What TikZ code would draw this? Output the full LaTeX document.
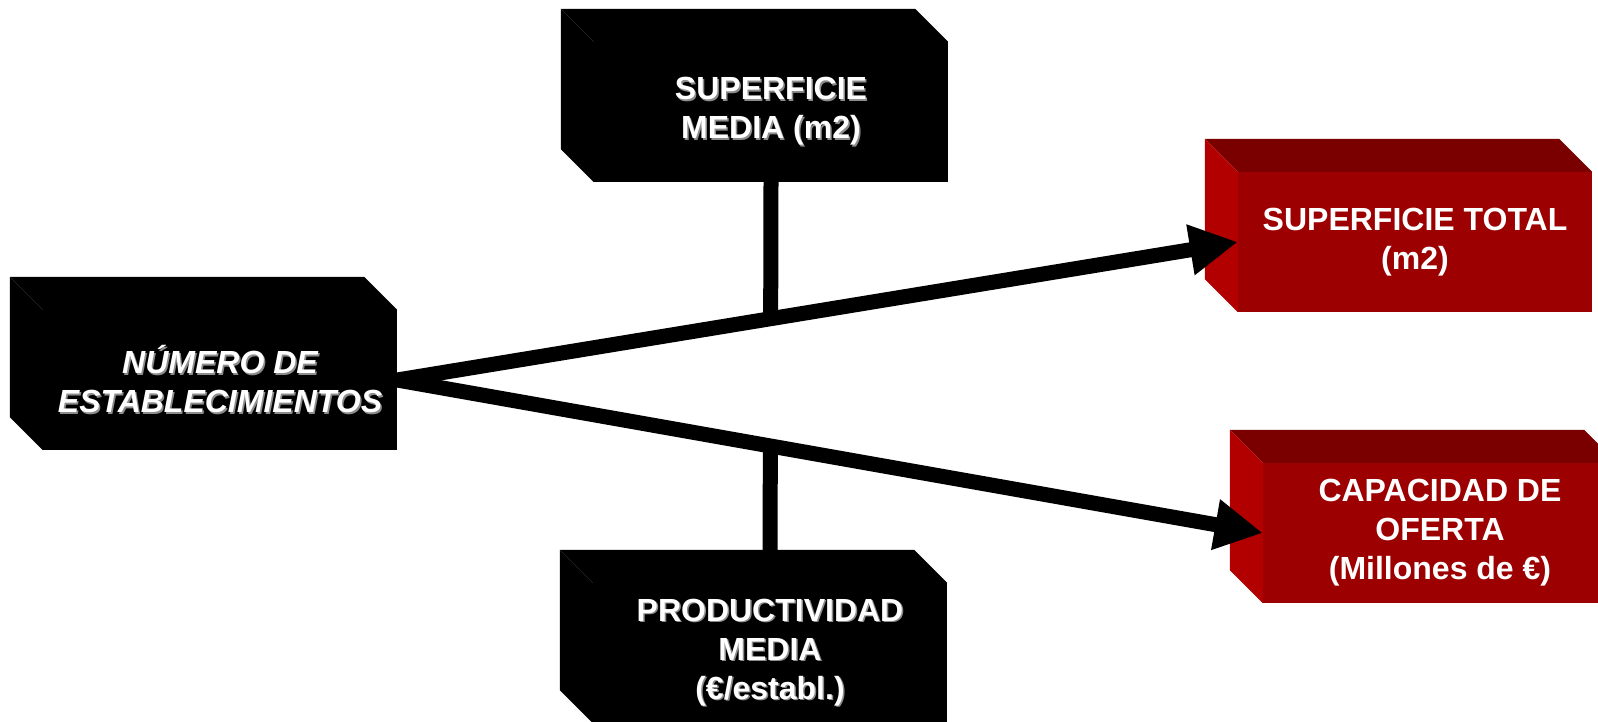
\documentclass[tikz,border=0pt]{standalone}
\usepackage{fontspec}
\setmainfont{Liberation Sans}
\usetikzlibrary{arrows.meta,positioning}

\definecolor{redfront}{RGB}{156,0,0}
\definecolor{redside}{RGB}{178,0,0}
\definecolor{redtop}{RGB}{122,0,0}
\definecolor{txtshade}{RGB}{140,140,140}

% white letters with a grey copy just below and to the right
\newcommand{\shadetxt}[1]{\makebox[0pt][l]{\kern1.5pt\raisebox{-1.5pt}{\textcolor{txtshade}{#1}}}#1}

\begin{document}
\begin{tikzpicture}[x=1pt, y=-1pt,
		basic/.style    = {rectangle, minimum width=354pt, minimum height=140pt, inner sep=0pt, align=center, text=white, font=\fontsize{32}{39}\selectfont\bfseries},
		darkbox/.style  = {basic, fill=black},
		redbox/.style   = {basic, fill=redfront},
		slanted/.style  = {font=\fontsize{32}{39}\selectfont\bfseries\itshape},
		link/.style     = {line width=15pt},
		>={Triangle[length=48pt,width=48pt]}]
		
		\useasboundingbox (0,0) rectangle (1598,721);
		
		% Front faces of the boxes
		\node[darkbox, slanted] (num) at (220,380) {\shadetxt{NÚMERO DE}\\\shadetxt{ESTABLECIMIENTOS}};
		\node[darkbox] (supmed) at (771,112) {\shadetxt{SUPERFICIE}\\\shadetxt{MEDIA (m2)}};
		\node[darkbox] (prod) at (770,653) {\shadetxt{PRODUCTIVIDAD}\\\shadetxt{MEDIA}\\\shadetxt{(€/establ.)}};
		
		\node[redbox] (suptot) at (1415,242) {SUPERFICIE TOTAL\\(m2)};
		\node[redbox] (cap) at (1440,533) {CAPACIDAD DE\\OFERTA\\(Millones de €)};
		
		% Top and left faces, 33pt deep
		\foreach \value/\top/\side in {num/black/black, supmed/black/black, prod/black/black, suptot/redtop/redside, cap/redtop/redside}
		{
			\fill[\top] (\value.north west) -- ++(-33,-33) -- ([shift={(-33,-33)}]\value.north east) -- (\value.north east) -- cycle;
			\fill[\side] (\value.north west) -- ++(-33,-33) -- ([shift={(-33,-33)}]\value.south west) -- (\value.south west) -- cycle;
		}
		
		% Bars from the middle boxes onto the arrows
		\draw[link] (supmed.south) -- (intersection of supmed.south--prod.north and num.east--suptot.west);
		\draw[link] (prod.north) -- (intersection of supmed.south--prod.north and num.east--cap.west);
		
		% Arrows to the red boxes
		\foreach \value in {suptot,cap}
		\draw[link, ->] (num.east) -- (\value.west);
		
\end{tikzpicture}
\end{document}
